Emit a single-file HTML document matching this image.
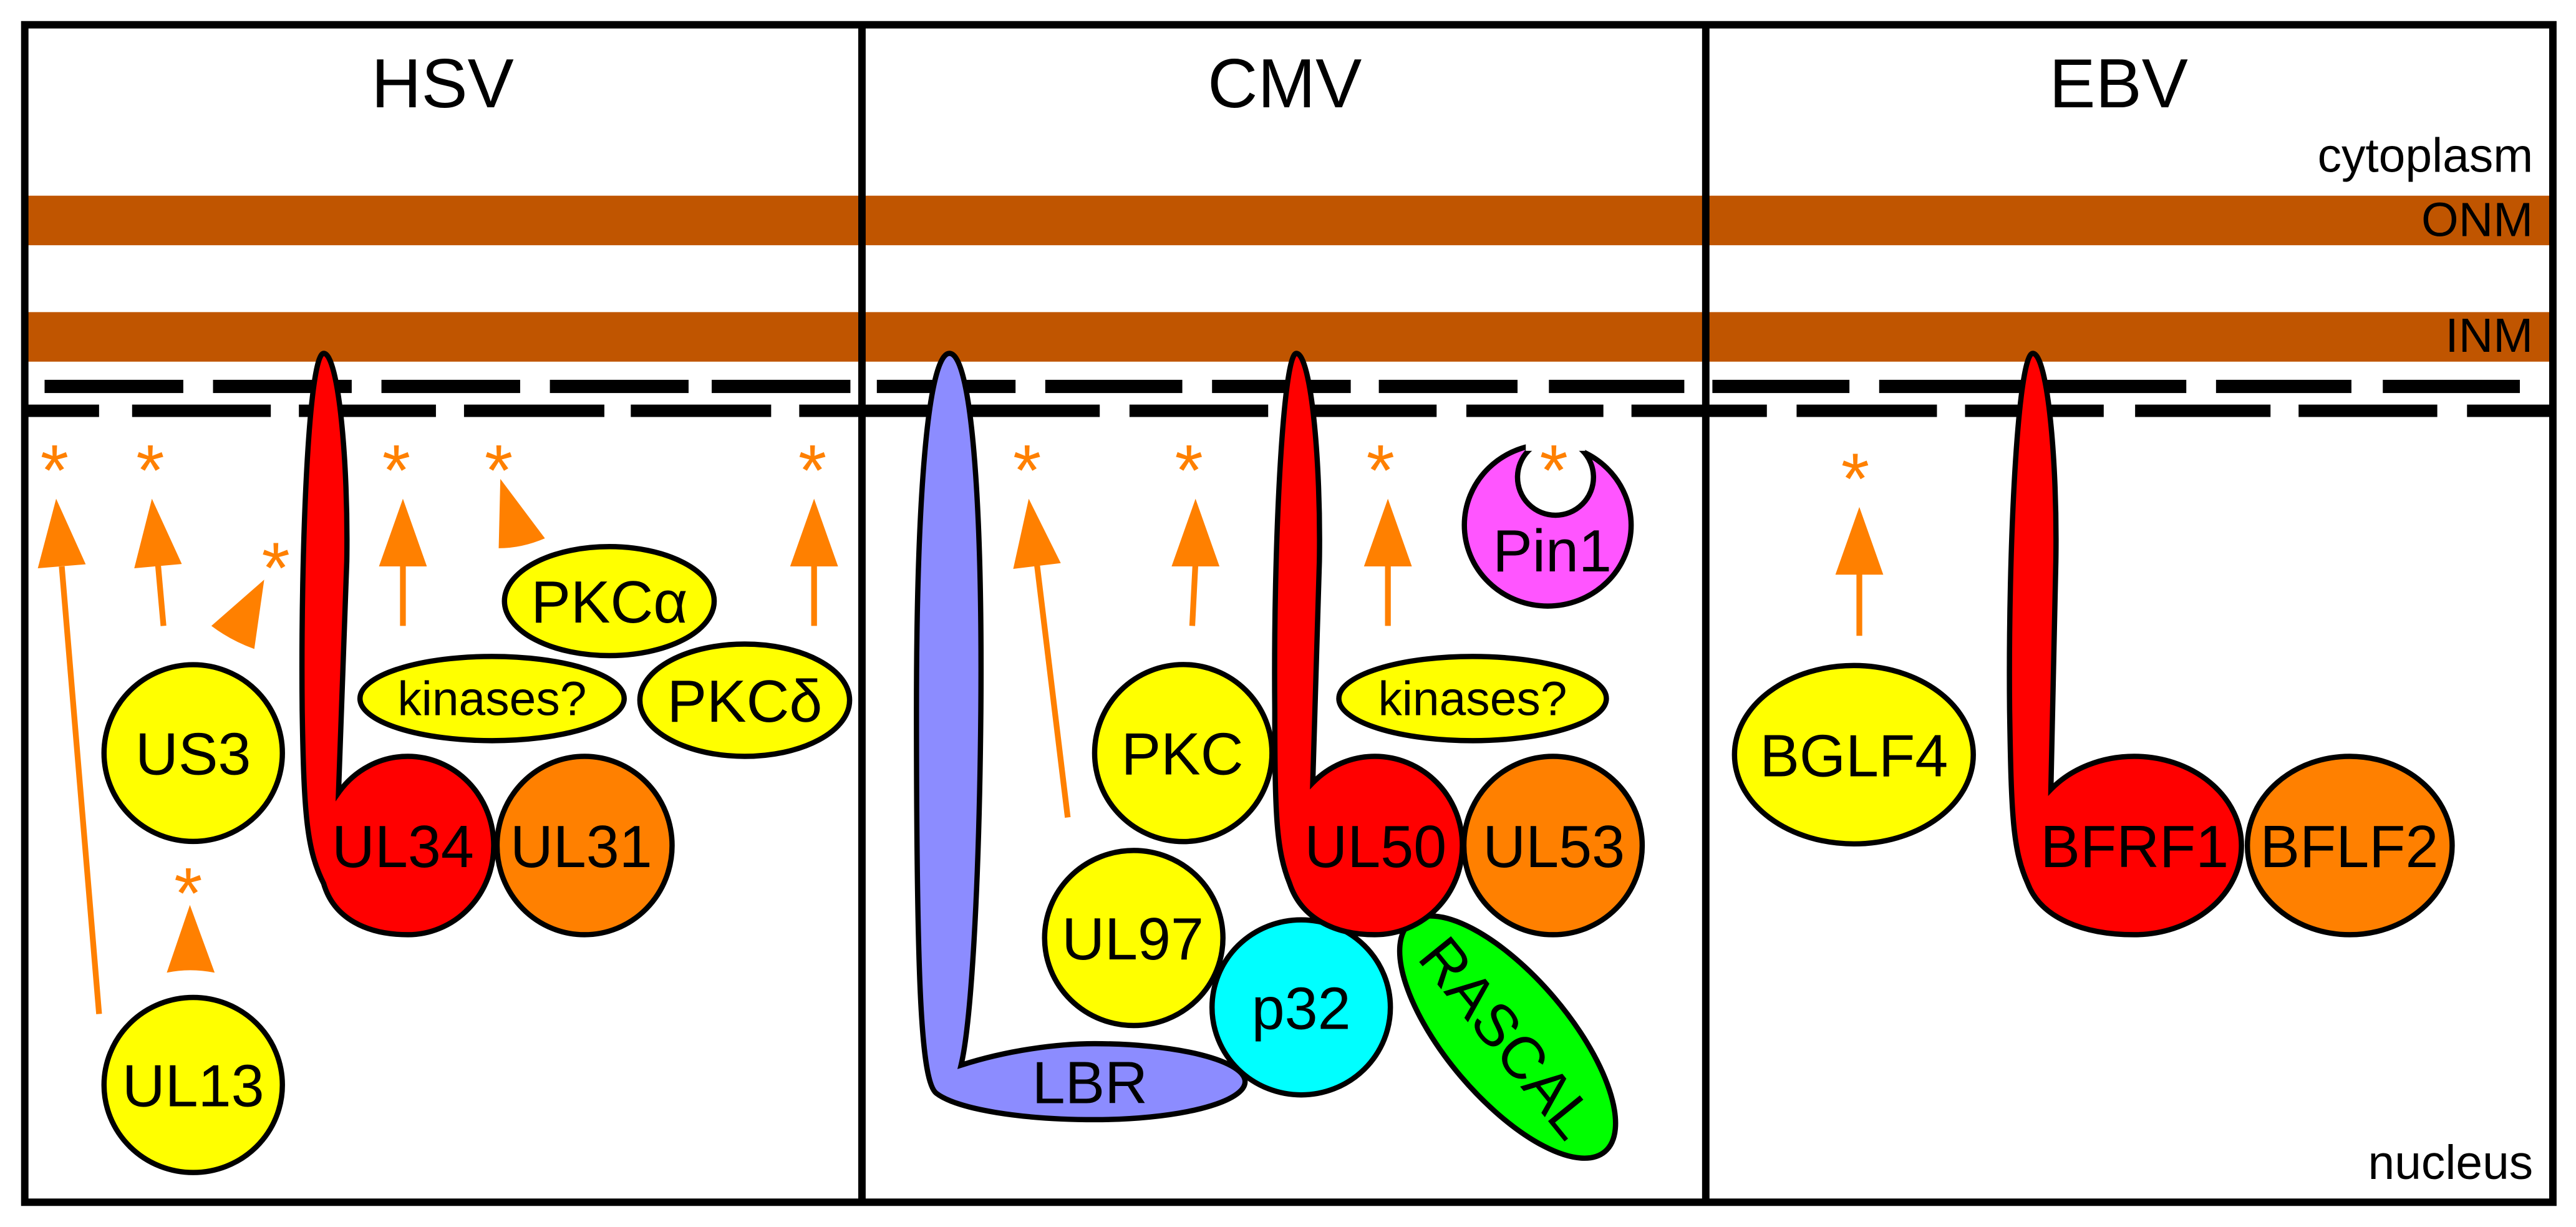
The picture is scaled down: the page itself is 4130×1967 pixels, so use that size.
<!DOCTYPE html>
<html><head><meta charset="utf-8"><style>
html,body{margin:0;padding:0;background:#fff;}
svg{display:block;}
text{font-family:"Liberation Sans",Arial,sans-serif;}
</style></head><body>
<svg width="4130" height="1967" viewBox="0 0 1560 743" preserveAspectRatio="none" xmlns="http://www.w3.org/2000/svg">
<rect x="0" y="0" width="1560" height="743" fill="#fff"/>
<rect x="15" y="118.5" width="1531" height="30" fill="#C05500"/>
<rect x="15" y="189" width="1531" height="30" fill="#C05500"/>
<g fill="#000">
<rect x="27" y="230" width="84" height="8"/><rect x="129" y="230" width="84" height="8"/><rect x="231" y="230" width="84" height="8"/><rect x="333" y="230" width="84" height="8"/><rect x="431" y="230" width="84" height="8"/>
<rect x="15" y="245" width="45" height="7.5"/><rect x="80" y="245" width="84" height="7.5"/><rect x="181" y="245" width="83" height="7.5"/><rect x="281" y="245" width="85" height="7.5"/><rect x="382" y="245" width="85" height="7.5"/><rect x="484" y="245" width="38" height="7.5"/>
<rect x="531" y="230" width="84" height="8"/><rect x="633" y="230" width="83" height="8"/><rect x="734" y="230" width="84" height="8"/><rect x="835" y="230" width="84" height="8"/><rect x="938" y="230" width="82" height="8"/>
<rect x="521" y="245" width="145" height="7.5"/><rect x="684" y="245" width="84" height="7.5"/><rect x="786" y="245" width="84" height="7.5"/><rect x="888" y="245" width="83" height="7.5"/><rect x="988" y="245" width="45" height="7.5"/>
<rect x="1037" y="230" width="83" height="8"/><rect x="1138" y="230" width="186" height="8"/><rect x="1342" y="230" width="82" height="8"/><rect x="1443" y="230" width="83" height="8"/>
<rect x="1033" y="245" width="37" height="7.5"/><rect x="1088" y="245" width="85" height="7.5"/><rect x="1190" y="245" width="84" height="7.5"/><rect x="1293" y="245" width="82" height="7.5"/><rect x="1392" y="245" width="84" height="7.5"/><rect x="1494" y="245" width="52" height="7.5"/>
</g>
<rect x="15" y="15" width="1531" height="713" fill="none" stroke="#000" stroke-width="4.5"/>
<line x1="522" y1="15" x2="522" y2="728" stroke="#000" stroke-width="4.5"/>
<line x1="1033" y1="15" x2="1033" y2="728" stroke="#000" stroke-width="4.5"/>
<g font-size="42" text-anchor="middle" fill="#000">
<text x="268" y="65">HSV</text><text x="778" y="65">CMV</text><text x="1283" y="65">EBV</text>
</g>
<g font-size="29" text-anchor="end" fill="#000">
<text x="1534" y="104">cytoplasm</text><text x="1534" y="143">ONM</text><text x="1534" y="213">INM</text><text x="1534" y="714">nucleus</text>
</g>
<g stroke="#FF8000" stroke-width="3.5" fill="none">
<line x1="60" y1="614" x2="37.4" y2="343"/>
<line x1="99" y1="379" x2="95.7" y2="342"/>
<line x1="244" y1="379" x2="244" y2="342"/>
<line x1="493" y1="379" x2="493" y2="342"/>
<line x1="646.6" y1="495" x2="628" y2="342"/>
<line x1="722" y1="379" x2="723.9" y2="342"/>
<line x1="840.5" y1="379" x2="840.5" y2="342"/>
<line x1="1126" y1="385" x2="1126" y2="347"/>
</g>
<g fill="#FF8000">
<polygon points="34,302 51.9,341.7 22.9,344.1"/>
<polygon points="92,302 110.1,341.5 81.3,344.1"/>
<polygon points="244,302 258.5,343 229.5,343"/>
<polygon points="493,302 507.5,343 478.5,343"/>
<polygon points="623,302 642.4,341 613.6,344.5"/>
<polygon points="724,302 738.5,343 709.5,343"/>
<polygon points="840.5,302 855,343 826,343"/>
<polygon points="1126,307 1140.5,348 1111.5,348"/>
<path d="M128,379 L160,351 L154,393 Q140,388 128,379 Z"/>
<path d="M303,290 L330,326 Q316,332 302,332 Z"/>
<path d="M115,548 L130,589 Q115,586 101,589 Z"/>
</g>
<g stroke="#000" stroke-width="3.2">
<ellipse cx="117" cy="456" rx="54" ry="53.5" fill="#FFFF00"/>
<ellipse cx="117" cy="657" rx="54" ry="53" fill="#FFFF00"/>
<ellipse cx="369" cy="364" rx="63.5" ry="33" fill="#FFFF00"/>
<ellipse cx="298" cy="423" rx="80" ry="25.5" fill="#FFFF00"/>
<ellipse cx="451" cy="424" rx="63.5" ry="34" fill="#FFFF00"/>
<ellipse cx="354" cy="512" rx="53" ry="54" fill="#FF8000"/>
<path d="M196,214 C205,214 211,280 210,340 L205,480 A52,54 0 0 1 247,458 A52,54 0 0 1 247,566 C222,566 202,556 196,535 C186,515 184,495 183,430 C182,330 187,214 196,214 Z" fill="#FF0000"/>
<path d="M575,214 C588,214 595,300 594,430 C593,540 588,620 582,645 C610,636 640,632 663,632 A91,23 0 0 1 663,678 C620,678 580,672 567,662 C558,655 555,600 555,430 C555,300 562,214 575,214 Z" fill="#8C8CFF"/>
<ellipse cx="716.6" cy="456" rx="53.7" ry="53.6" fill="#FFFF00"/>
<ellipse cx="686.6" cy="568" rx="54" ry="53" fill="#FFFF00"/>
<ellipse cx="788" cy="610" rx="54" ry="53" fill="#00FFFF"/>
<ellipse cx="913" cy="628" rx="91" ry="37" fill="#00FF00" transform="rotate(49.6 913 628)"/>
<ellipse cx="940.5" cy="512" rx="54" ry="54" fill="#FF8000"/>
<path d="M785,214 C794,214 800,280 799,340 L795,474 A53,54 0 0 1 832.6,458 A53,54 0 0 1 832.6,566 C808,566 788,556 781,535 C773,515 772,495 772,430 C771,330 777,214 785,214 Z" fill="#FF0000"/>
<ellipse cx="891.8" cy="423" rx="81" ry="25.5" fill="#FFFF00"/>
<ellipse cx="937.3" cy="318" rx="50.5" ry="49" fill="#FF55FF"/>
<circle cx="942" cy="289" r="23" fill="#fff"/>
<ellipse cx="1122.7" cy="457" rx="72.3" ry="54" fill="#FFFF00"/>
<ellipse cx="1423" cy="512" rx="62" ry="54" fill="#FF8000"/>
<path d="M1231,214 C1240,214 1246,280 1245,340 L1242,478 A65,54 0 0 1 1292.4,458 A65,54 0 0 1 1292.4,566 C1262,566 1236,556 1228,535 C1219,515 1218,495 1217,430 C1216,330 1222,214 1231,214 Z" fill="#FF0000"/>
</g>
<rect x="924" y="255" width="36" height="18" fill="#fff"/>
<g font-size="44" fill="#FF8000" text-anchor="middle">
<text x="33" y="300">*</text><text x="91" y="300">*</text><text x="240" y="300">*</text><text x="302" y="300">*</text><text x="492" y="300">*</text>
<text x="167" y="359">*</text><text x="114" y="556">*</text>
<text x="622" y="300">*</text><text x="720" y="300">*</text><text x="836" y="300">*</text><text x="941" y="300">*</text>
<text x="1123.5" y="305">*</text>
</g>
<g font-size="36" fill="#000" text-anchor="middle">
<text x="117" y="469">US3</text>
<text x="117" y="670">UL13</text>
<text x="369" y="377">PKCα</text>
<text x="451" y="437">PKCδ</text>
<text x="244" y="525">UL34</text>
<text x="352" y="525">UL31</text>
<text x="716" y="469">PKC</text>
<text x="686" y="581">UL97</text>
<text x="788" y="623">p32</text>
<text x="660" y="668">LBR</text>
<text x="833" y="525">UL50</text>
<text x="941" y="525">UL53</text>
<text x="940" y="346">Pin1</text>
<text x="1122.7" y="470">BGLF4</text>
<text x="1292.7" y="525">BFRF1</text>
<text x="1422.7" y="525">BFLF2</text>
<text x="913" y="641" transform="rotate(51 913 628)">RASCAL</text>
</g>
<g font-size="29" fill="#000" text-anchor="middle">
<text x="298" y="433">kinases?</text>
<text x="891.8" y="433">kinases?</text>
</g>
</svg>
</body></html>
